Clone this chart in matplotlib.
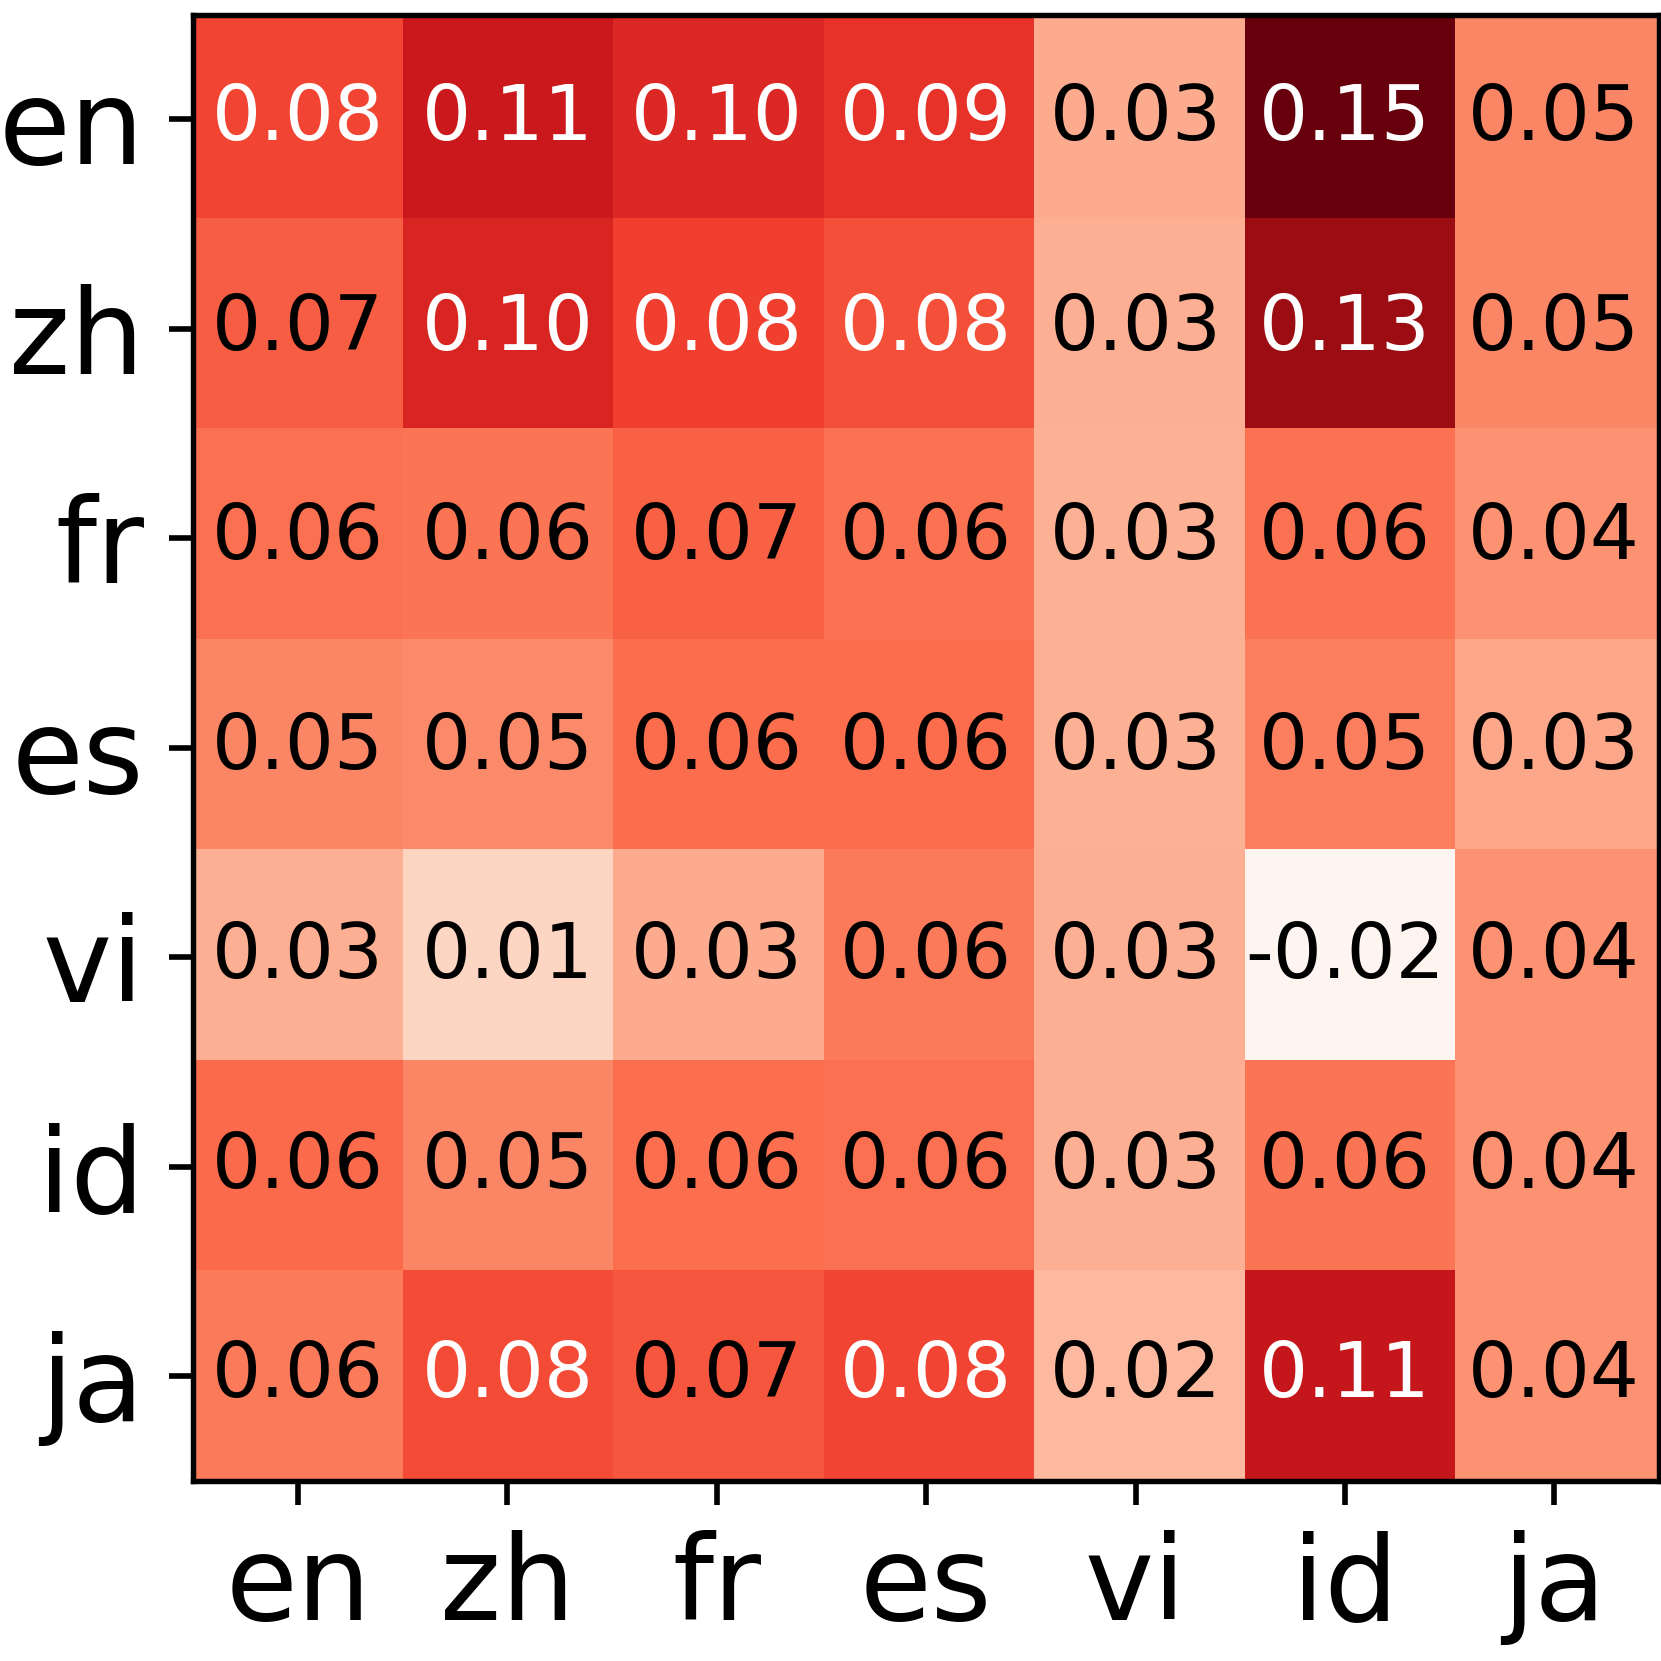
import matplotlib
matplotlib.use("Agg")
import matplotlib.pyplot as plt
import numpy as np

# languages on both axes
langs = ['en', 'zh', 'fr', 'es', 'vi', 'id', 'ja']

# cell values, one list per row
row_en = [0.081, 0.106, 0.096, 0.090, 0.031, 0.148, 0.050]
row_zh = [0.070, 0.098, 0.083, 0.076, 0.029, 0.130, 0.050]
row_fr = [0.061, 0.058, 0.068, 0.060, 0.028, 0.060, 0.043]
row_es = [0.050, 0.048, 0.063, 0.063, 0.028, 0.053, 0.033]
row_vi = [0.029, 0.008, 0.031, 0.056, 0.029, -0.019, 0.043]
row_id = [0.064, 0.050, 0.062, 0.061, 0.029, 0.058, 0.043]
row_ja = [0.056, 0.078, 0.073, 0.081, 0.024, 0.110, 0.043]

data = np.array([row_en, row_zh, row_fr, row_es, row_vi, row_id, row_ja])
n = len(langs)

W = 1661
DPI = 300
fig = plt.figure(figsize=(W / DPI, W / DPI), dpi=DPI)
ax = fig.add_axes([193.3 / W, 1 - 1481 / W, (1659 - 193.3) / W, (1481 - 14.7) / W])

# the raster in the original sits a touch larger than the grid, anchored bottom-left
ax.imshow(data, cmap='Reds', aspect='auto', interpolation='nearest',
          extent=(-0.5, n - 0.5 + 0.035, n - 0.5, -0.5 - 0.031))
ax.set_xlim(-0.5, n - 0.5)
ax.set_ylim(n - 0.5, -0.5)

for i in range(n):
    for j in range(n):
        v = data[i, j]
        ax.text(j, i, f'{v:.2f}', ha='center', va='center', fontsize=18.5,
                color='white' if v > 0.075 else 'black')

ax.set_xticks(range(n))
ax.set_yticks(range(n))
ax.set_xticklabels(langs, fontsize=28)
ax.set_yticklabels(langs, fontsize=28)
ax.tick_params(length=5.8, width=1.35, pad=6)
for s in ax.spines.values():
    s.set_linewidth(1.3)

fig.savefig('out.png', dpi=DPI)
